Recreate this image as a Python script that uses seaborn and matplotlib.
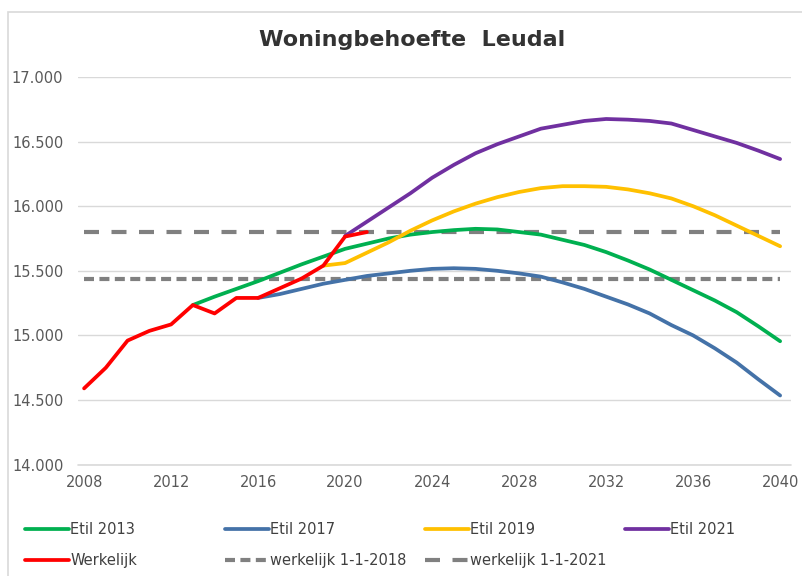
import matplotlib
matplotlib.use("Agg")
import matplotlib.pyplot as plt
import matplotlib.ticker as mticker
from matplotlib.patches import Rectangle
import seaborn as sns
import pandas as pd

# --- data ---
years_werkelijk = list(range(2008, 2022))
werkelijk = [14590, 14750, 14960, 15035, 15085, 15235, 15170, 15290, 15290,
             15365, 15440, 15540, 15765, 15800]

years_2013 = list(range(2013, 2041))
etil_2013 = [15235, 15300, 15360, 15420, 15485, 15550, 15610, 15670, 15710,
             15750, 15780, 15800, 15815, 15825, 15820, 15800, 15780, 15740,
             15700, 15645, 15580, 15510, 15430, 15350, 15270, 15180, 15070,
             14955]

years_2017 = list(range(2016, 2041))
etil_2017 = [15290, 15320, 15360, 15400, 15430, 15460, 15480, 15500, 15515,
             15520, 15515, 15500, 15480, 15455, 15410, 15360, 15300, 15240,
             15170, 15080, 15000, 14900, 14790, 14660, 14535]

years_2019 = list(range(2019, 2041))
etil_2019 = [15540, 15560, 15640, 15720, 15810, 15890, 15960, 16020, 16070,
             16110, 16140, 16155, 16155, 16150, 16130, 16100, 16060, 16000,
             15930, 15850, 15770, 15690]

years_2021 = list(range(2020, 2041))
etil_2021 = [15770, 15880, 15990, 16100, 16220, 16320, 16410, 16480, 16540,
             16600, 16630, 16660, 16675, 16670, 16660, 16640, 16590, 16540,
             16490, 16430, 16365]

werkelijk_2018 = 15440
werkelijk_2021 = 15800

x_ticks = list(range(2008, 2041, 4))
y_ticks = list(range(14000, 17001, 500))

series = [
    ("Etil 2013", years_2013, etil_2013, "#00B050"),
    ("Etil 2017", years_2017, etil_2017, "#4472A8"),
    ("Etil 2019", years_2019, etil_2019, "#FFC000"),
    ("Etil 2021", years_2021, etil_2021, "#7030A0"),
    ("Werkelijk", years_werkelijk, werkelijk, "#FF0000"),
]

sns.set_style("white")
plt.rcParams["font.family"] = ["DejaVu Sans"]
text_color = "#595959"
grid_color = "#D9D9D9"

fig = plt.figure(figsize=(8.03, 5.76), dpi=100)
ax = fig.add_axes([78 / 803, 1 - 465 / 576, (791 - 78) / 803, (465 - 77) / 576])

# chart border (cropped at the right and bottom in the reference)
fig.patches.append(Rectangle((8 / 803, -0.1), 1.2, 1 - 12 / 576 + 0.1,
                             transform=fig.transFigure, fill=False,
                             edgecolor=grid_color, linewidth=1.2))

handles = {}
for label, xs, ys, color in series:
    df = pd.DataFrame({"jaar": xs, "woningen": ys})
    sns.lineplot(data=df, x="jaar", y="woningen", ax=ax, color=color,
                 linewidth=2.7, label=label, zorder=3, legend=False)
    handles[label] = ax.lines[-1]

x0, x1 = years_werkelijk[0], years_2013[-1]
l18, = ax.plot([x0, x1], [werkelijk_2018] * 2, color="#808080", linewidth=3,
               dashes=(2.4, 1.3), label="werkelijk 1-1-2018", zorder=2)
l21, = ax.plot([x0, x1], [werkelijk_2021] * 2, color="#808080", linewidth=3,
               dashes=(3.6, 3.0), label="werkelijk 1-1-2021", zorder=2)

ax.set_xlim(2007.72, 2040.5)
ax.set_ylim(13997, 17000)
ax.set_xticks(x_ticks)
ax.set_yticks(y_ticks)
ax.yaxis.set_major_formatter(mticker.FuncFormatter(
    lambda v, p: f"{v:,.0f}".replace(",", ".")))
ax.grid(axis="y", color=grid_color, linewidth=1)
ax.grid(axis="x", visible=False)
# bottom gridline sits on the axis edge
ax.axhline(y_ticks[0], color=grid_color, linewidth=1.2, clip_on=False, zorder=1)
for s in ax.spines.values():
    s.set_visible(False)
ax.tick_params(axis="both", length=0, labelsize=10.5, labelcolor=text_color)
ax.tick_params(axis="y", pad=10.5)
ax.tick_params(axis="x", pad=7)
ax.set_xlabel("")
ax.set_ylabel("")

fig.text(412 / 803, 1 - 40 / 576, "Woningbehoefte  Leudal", ha="center",
         va="center", fontsize=16, fontweight="bold", color="#333333")

# legend: four columns of equal width, like the Excel layout
columns = [
    [handles["Etil 2013"], handles["Werkelijk"]],
    [handles["Etil 2017"], l18],
    [handles["Etil 2019"], l21],
    [handles["Etil 2021"]],
]
for i, col in enumerate(columns):
    leg = fig.legend(handles=col, labels=[h.get_label() for h in col],
                     loc="upper left", bbox_to_anchor=((25 + 200 * i) / 803, 1 - 522 / 576),
                     frameon=False, fontsize=10.5, handlelength=3.0,
                     handletextpad=0.1, borderpad=0, borderaxespad=0,
                     labelspacing=1.12)
    for t in leg.get_texts():
        t.set_color("#404040")

fig.savefig("out.png", dpi=100)
